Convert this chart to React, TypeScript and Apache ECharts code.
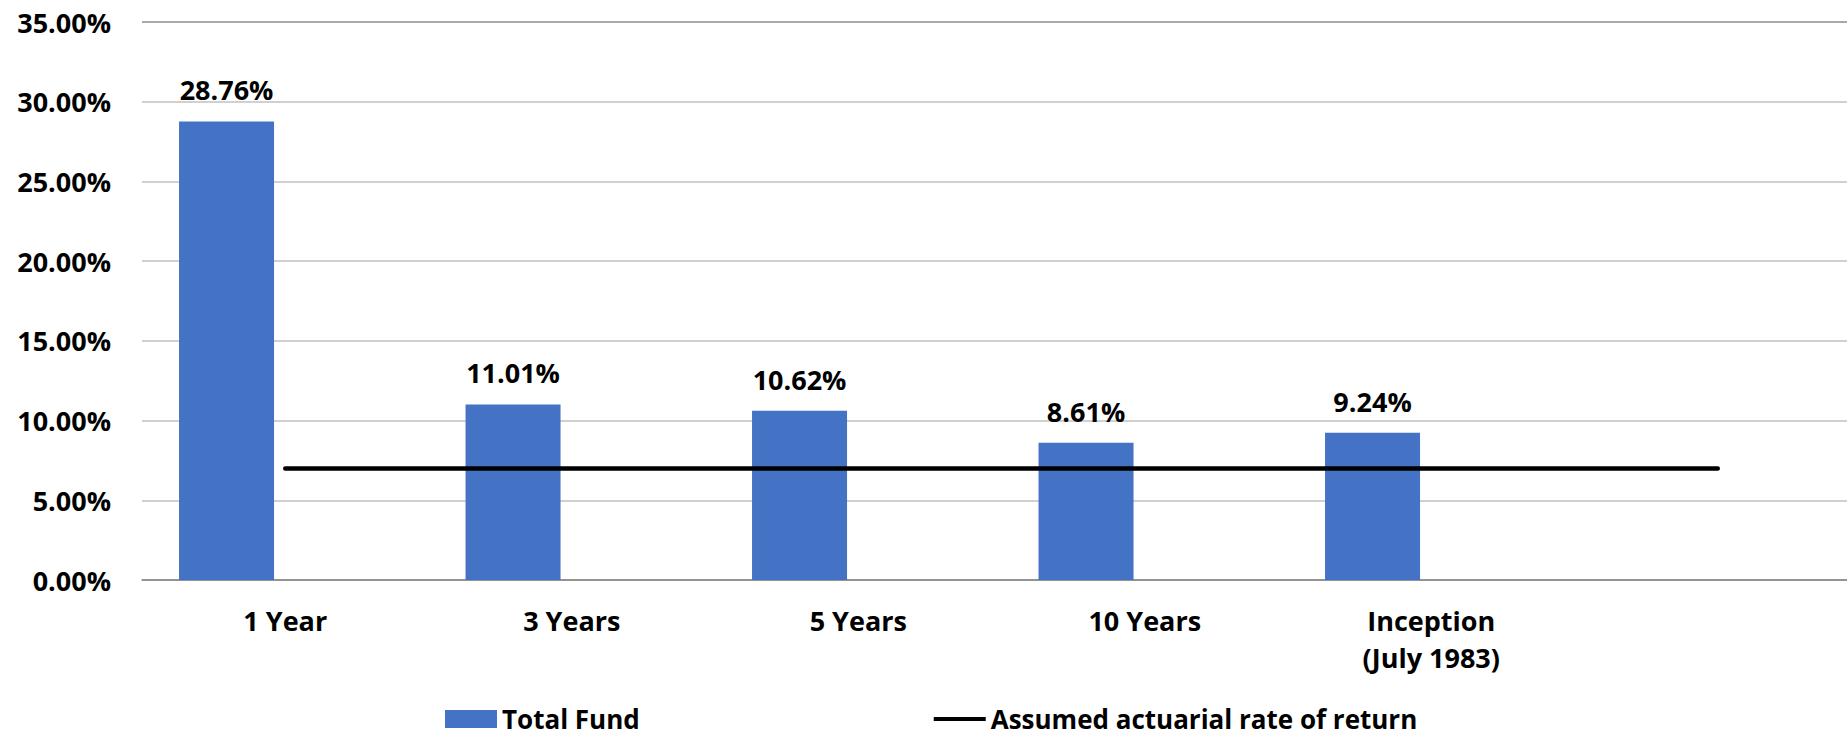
import React, { useEffect, useRef } from "react";
import * as echarts from "echarts";

const categories = ["1 Year", "3 Years", "5 Years", "10 Years", "Inception\n(July 1983)", ""];
const totalFund = [28.76, 11.01, 10.62, 8.61, 9.24, null];
const assumedRate = [7.0, 7.0, 7.0, 7.0, 7.0, 7.0];
const yTicks = { min: 0, max: 35, interval: 5 };

const FONT = "Open Sans";

export default function App() {
  const ref = useRef<HTMLDivElement>(null);
  useEffect(() => {
    if (!ref.current) return;
    const chart = echarts.init(ref.current, null, { renderer: "svg" });
    const txt = { fontFamily: FONT, fontWeight: "bold" as const, fontSize: 27, color: "#000" };
    chart.setOption({
      animation: false,
      backgroundColor: "#fff",
      grid: {
        left: 142,
        top: 22,
        width: 1719,
        height: 558,
        containLabel: false,
        outerBoundsMode: "none",
      },
      legend: {
        left: 445,
        top: 706,
        padding: 0,
        itemWidth: 52,
        itemHeight: 18,
        itemGap: 294,
        textStyle: { ...txt, fontSize: 26, lineHeight: 24, padding: [0, 0, 0, 0] },
        data: [
          { name: "Total Fund", icon: "rect" },
          {
            name: "Assumed actuarial rate of return",
            icon: "path://M0,0 L0,0 M0,7 L52,7 L52,11 L0,11 Z M52,18 L52,18",
          },
        ],
      },
      xAxis: {
        type: "category",
        data: categories,
        axisTick: { show: false },
        axisLine: { lineStyle: { color: "#8c8c8c", width: 1.5 } },
        axisLabel: { ...txt, margin: 22, lineHeight: 37, interval: 0 },
      },
      yAxis: {
        type: "value",
        min: yTicks.min,
        max: yTicks.max,
        interval: yTicks.interval,
        axisLine: { show: false },
        axisTick: { show: false },
        axisLabel: {
          ...txt,
          margin: 31,
          formatter: (v: number) => v.toFixed(2) + "%",
        },
        splitLine: {
          lineStyle: {
            color: ["#8c8c8c", "#c0c0c0", "#c0c0c0", "#c0c0c0", "#c0c0c0", "#c0c0c0", "#c0c0c0", "#8c8c8c"],
            width: 1.5,
          },
        },
      },
      series: [
        {
          name: "Total Fund",
          type: "bar",
          data: totalFund,
          barWidth: 95,
          barGap: "23.6%",
          itemStyle: { color: "#4472C4" },
          label: {
            show: true,
            position: "top",
            distance: 18,
            ...txt,
            formatter: (p: any) => (p.value == null ? "" : p.value.toFixed(2) + "%"),
          },
          z: 2,
        },
        {
          name: "_spacer",
          type: "bar",
          data: categories.map(() => "-"),
          barWidth: 95,
          itemStyle: { color: "transparent" },
          silent: true,
        },
        {
          name: "Assumed actuarial rate of return",
          type: "line",
          data: assumedRate,
          symbol: "none",
          lineStyle: { color: "#000", width: 4.5, cap: "round" },
          itemStyle: { color: "#000" },
          z: 5,
        },
      ],
    });
    return () => chart.dispose();
  }, []);
  return (
    <div
      ref={ref}
      style={{ position: "fixed", left: 0, top: 0, width: 1847, height: 736, background: "#fff" }}
    />
  );
}
